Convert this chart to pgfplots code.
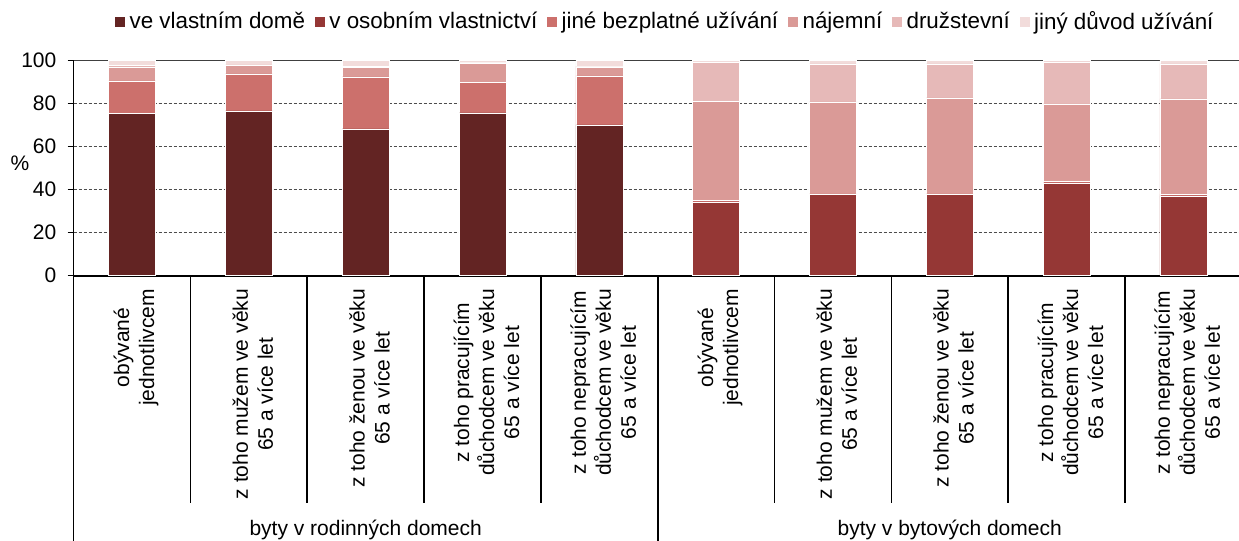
\documentclass[border=0pt]{standalone}
\usepackage{pgfplots}
\pgfplotsset{compat=1.18}
\usepackage{pgfplotstable}
\usepackage{fontspec}
\setmainfont{Liberation Sans}
\definecolor{cA}{RGB}{99,36,35}
\definecolor{cB}{RGB}{149,55,53}
\definecolor{cC}{RGB}{204,112,108}
\definecolor{cD}{RGB}{218,154,151}
\definecolor{cE}{RGB}{230,185,184}
\definecolor{cF}{RGB}{242,220,219}
\pgfplotstableread{
x s1 s2 s3 s4 s5 s6
0 75.3 0 15.2 6.5 0.5 2.5
1 76.5 0 17.2 3.9 0.3 2.1
2 68.2 0 24.1 4.5 0.3 2.9
3 75.6 0 14.1 9.1 0.3 0.9
4 70.0 0 22.8 4.2 0.3 2.7
5 0 34.3 0.5 46.0 18.1 1.1
6 0 37.6 0.4 42.7 17.6 1.7
7 0 37.6 0.4 44.6 15.7 1.7
8 0 43.1 0.8 35.9 19.5 0.7
9 0 37.1 0.8 44.2 16.2 1.7
}\datatable
\begin{document}
\fontsize{10.5}{12.5}\selectfont
\begin{tikzpicture}
\begin{axis}[
  scale only axis,
  width=584pt, height=107.7pt,
  at={(0,0)}, anchor=south west,
  ybar stacked,
  bar width=23.5pt,
  xmin=-0.5, xmax=9.5,
  ymin=0, ymax=100,
  ytick={0,20,40,60,80,100},
  xtick={0,...,9},
  xticklabels={
    {obývané\\jednotlivcem},
    {z toho mužem ve věku\\65 a více let},
    {z toho ženou ve věku\\65 a více let},
    {z toho pracujícím\\důchodcem ve věku\\65 a více let},
    {z toho nepracujícím\\důchodcem ve věku\\65 a více let},
    {obývané\\jednotlivcem},
    {z toho mužem ve věku\\65 a více let},
    {z toho ženou ve věku\\65 a více let},
    {z toho pracujícím\\důchodcem ve věku\\65 a více let},
    {z toho nepracujícím\\důchodcem ve věku\\65 a více let}},
  xticklabel style={rotate=90, anchor=east, align=center, font=\fontsize{10.5}{12.5}\selectfont, yshift=-2pt},
  yticklabel style={font=\fontsize{10.5}{12.5}\selectfont, xshift=-2pt},
  /pgf/number format/assume math mode=true,
  x tick style={draw=none},
  y tick style={black, line width=0.6pt},
  tick align=outside,
  major tick length=3pt,
  axis x line*=bottom,
  axis y line*=left,
  x axis line style={line width=1pt, -},
  y axis line style={line width=0.8pt, -},
  ymajorgrids,
  grid style={black!70, dash pattern=on 1.5pt off 1pt, line width=0.4pt},
  clip=false,
  ylabel={\%},
  ylabel style={rotate=-90},
  every axis y label/.style={at={(rel axis cs:0,0.523)}, anchor=center, xshift=-26.85pt},
  legend style={at={(rel axis cs:0.507,1.178)}, anchor=center, draw=none, fill=none,
    legend columns=6, font=\fontsize{11.2}{13}\selectfont,
    /tikz/every even column/.append style={column sep=2.5pt},
    inner sep=0pt},
  legend image code/.code={\fill[#1] (0pt,-2.8pt) rectangle (5.4pt,2.8pt);},
  every axis plot/.append style={draw=white, line width=0.25pt},
]
\addplot[fill=cA] table[x=x,y=s1]{\datatable};
\addplot[fill=cB] table[x=x,y=s2]{\datatable};
\addplot[fill=cC] table[x=x,y=s3]{\datatable};
\addplot[fill=cD] table[x=x,y=s4]{\datatable};
\addplot[fill=cE] table[x=x,y=s5]{\datatable};
\addplot[fill=cF] table[x=x,y=s6]{\datatable};
\legend{ve vlastním domě, v osobním vlastnictví, jiné bezplatné užívání, nájemní, družstevní, jiný důvod užívání}
\draw[black!75, line width=0.8pt] (rel axis cs:0,1) -- (rel axis cs:1,1);
\pgfplotsinvokeforeach{0.5,1.5,2.5,3.5,5.5,6.5,7.5,8.5}{
  \draw[black, line width=0.8pt] (axis cs:#1,0) -- (axis cs:#1,-105.5);
}
\pgfplotsinvokeforeach{-0.5,4.5,9.5}{
  \draw[black, line width=0.8pt] (axis cs:#1,0) -- (axis cs:#1,-126);
}
\node[font=\fontsize{10.5}{12.5}\selectfont] at (axis cs:2,-118.2) {byty v rodinných domech};
\node[font=\fontsize{10.5}{12.5}\selectfont] at (axis cs:7,-118.2) {byty v bytových domech};
\end{axis}
\pgfresetboundingbox
\useasboundingbox (-36.85pt,-132.65pt) rectangle (582.65pt,137.85pt);
\end{tikzpicture}
\end{document}
